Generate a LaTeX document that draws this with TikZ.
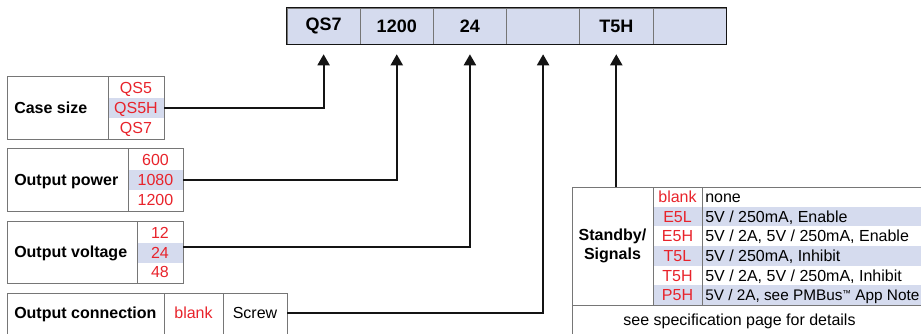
\documentclass[tikz,border=0pt]{standalone}
\usepackage{fontspec}
\setmainfont{Liberation Sans}
\usetikzlibrary{arrows.meta,positioning}
\definecolor{ink}{HTML}{141414}
\definecolor{rim}{HTML}{767676}
\definecolor{band}{HTML}{D5DBEE}
\definecolor{code}{HTML}{E8232B}
\newcommand{\smalltm}{{\fontsize{6.5}{7}\selectfont\raisebox{3pt}{™}}}

\begin{document}
\begin{tikzpicture}[x=0.75pt,y=-0.75pt,font=\fontsize{12}{14}\selectfont,
  cell/.style={draw=rim,fill=band,minimum width=54.88pt,minimum height=27pt,inner sep=0pt,
    font=\fontsize{13.5}{15}\selectfont\bfseries},
  lab/.style={anchor=west,inner sep=0pt,text height=8.6pt,text depth=0pt,font=\fontsize{12}{14}\selectfont\bfseries},
  opt/.style={inner sep=0pt,text height=8.6pt,text depth=0pt,text=code},
  txt/.style={inner sep=0pt,text height=8.6pt,text depth=0pt},
  conn/.style={draw=ink,line width=1.5pt,-{Triangle[width=9pt,length=8.25pt]}}]
  \clip (0,0) rectangle (921,333);
  \foreach \t [count=\i] in {QS7,1200,24,{},T5H,{}} {
    \node[cell] (q\i) at (250.42+73.17*\i,26) {\t};
    \coordinate (arr\i) at ([yshift=-7.5pt]q\i.south);
  }
  \draw[ink,line width=1.1pt] (q1.north west) rectangle (q6.south east);
  \fill[band] (108,98) rectangle (164,118);
  \draw[rim] (7,76) rectangle (164,139) (108,76) -- (108,139);
  \node[lab] (cs) at (14,108) {Case size};
  \node[opt] (cs1) at (136,88) {QS5};
  \node[opt] (cs2) at (136,108) {QS5H};
  \node[opt] (cs3) at (136,128) {QS7};
  \coordinate (csE) at (164,108);
  \fill[band] (128,170) rectangle (183,190);
  \draw[rim] (7,148) rectangle (183,211) (128,148) -- (128,211);
  \node[lab] (op) at (14,180) {Output power};
  \node[opt] (op1) at (155.5,160) {600};
  \node[opt] (op2) at (155.5,180) {1080};
  \node[opt] (op3) at (155.5,200) {1200};
  \coordinate (opE) at (183,180);
  \fill[band] (137,243) rectangle (183,263);
  \draw[rim] (7,221) rectangle (183,283) (137,221) -- (137,283);
  \node[lab] (ov) at (14,252) {Output voltage};
  \node[opt] (ov1) at (160,233) {12};
  \node[opt] (ov2) at (160,253) {24};
  \node[opt] (ov3) at (160,272) {48};
  \coordinate (ovE) at (183,247);
  \draw[rim] (7,345) |- (287,293) -- (287,345) (164,293) -- (164,345) (223,293) -- (223,345);
  \node[lab] (oc) at (14,313) {Output connection};
  \node[opt] (oc1) at (193.5,313) {blank};
  \node[txt] (oc2) at (255,313) {Screw};
  \coordinate (ocE) at (287,313);
  \foreach \c/\d [count=\i] in {blank/none,E5L/{5V / 250mA, Enable},E5H/{5V / 2A, 5V / 250mA, Enable},
      T5L/{5V / 250mA, Inhibit},T5H/{5V / 2A, 5V / 250mA, Inhibit},
      P5H/{\fontsize{11.5}{14}\selectfont 5V / 2A, see PMBus\smalltm\ App Note}} {
    \ifodd\i\else\fill[band] (653,167.33+19.67*\i) rectangle (930,187+19.67*\i);\fi
    \node[opt] (sc\i) at (677.5,177.17+19.67*\i) {\c};
    \node[txt,anchor=west] (sd\i) at (705,177.17+19.67*\i) {\d};
  }
  \draw[rim] (572,345) |- (930,187) (653,187) -- (653,305) (702,187) -- (702,305) (572,305) -- (930,305);
  \node[font=\fontsize{12}{14}\selectfont\bfseries,align=center,inner sep=0pt] (sb) at (612.5,246) {Standby/\\Signals};
  \node[txt] (sf) at (739.5,320) {see specification page for details};
  \coordinate (sbtop) at (arr5 |- 0,187);
  \draw[conn] (csE) -| (arr1);
  \draw[conn] (opE) -| (arr2);
  \draw[conn] (ovE) -| (arr3);
  \draw[conn] (ocE) -| (arr4);
  \draw[conn] (sbtop) -- (arr5);
\end{tikzpicture}
\end{document}
